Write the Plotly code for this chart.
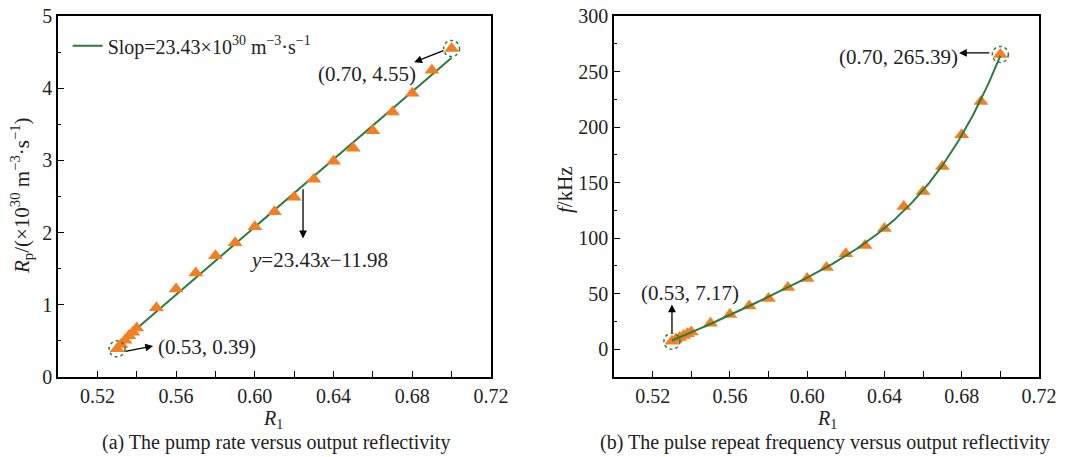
import numpy as np
import plotly.graph_objects as go

# ---------------- data ----------------
r1 = [0.530, 0.532, 0.534, 0.536, 0.538, 0.540, 0.55, 0.56, 0.57, 0.58, 0.59,
      0.60, 0.61, 0.62, 0.63, 0.64, 0.65, 0.66, 0.67, 0.68, 0.69, 0.70]
pump_rate = [0.39, 0.45, 0.51, 0.57, 0.62, 0.68, 0.96, 1.22, 1.44, 1.68, 1.86,
             2.08, 2.29, 2.49, 2.74, 2.99, 3.17, 3.41, 3.67, 3.93, 4.25, 4.55]
pulse_freq = [7.17, 8.9, 10.6, 12.3, 14.0, 15.6, 23.4, 31.4, 39.0, 45.8, 55.7,
              63.8, 73.5, 86.0, 93.5, 108.7, 128.6, 142.0, 164.5, 193.0, 223.0, 265.39]
fit_slope = 23.43
fit_intercept = -11.98
fit_range = [0.53, 0.70]

x_ticks = [0.52, 0.56, 0.60, 0.64, 0.68, 0.72]

GREEN = "#2b7d3b"
ORANGE = "#f47e23"
FONT = "Liberation Serif, Times New Roman, serif"
TXT = "#222"

fig = go.Figure()

# ---- left panel ----
xf = np.linspace(fit_range[0], fit_range[1], 50)
fig.add_trace(go.Scatter(x=xf, y=fit_slope * xf + fit_intercept, mode="lines",
                         line=dict(color=GREEN, width=2),
                         name="Slop=23.43×10<sup>30</sup> m<sup>−3</sup>·s<sup>−1</sup>",
                         xaxis="x", yaxis="y", showlegend=True))
fig.add_trace(go.Scatter(x=r1, y=pump_rate, mode="markers",
                         marker=dict(symbol="triangle-up", size=13, color=ORANGE),
                         xaxis="x", yaxis="y", showlegend=False))

# ---- right panel ----
coef = np.polyfit(r1, pulse_freq, 4)
xf2 = np.linspace(r1[0], r1[-1], 200)
fig.add_trace(go.Scatter(x=r1, y=pulse_freq, mode="markers",
                         marker=dict(symbol="triangle-up", size=13, color=ORANGE),
                         xaxis="x2", yaxis="y2", showlegend=False))
fig.add_trace(go.Scatter(x=xf2, y=np.polyval(coef, xf2), mode="lines",
                         line=dict(color=GREEN, width=2),
                         xaxis="x2", yaxis="y2", showlegend=False))

axis_common = dict(showline=True, linecolor="black", linewidth=1.5, mirror=True,
                   ticks="inside", ticklen=6, tickcolor="black", showgrid=False,
                   zeroline=False, automargin=False,
                   tickfont=dict(family=FONT, size=20, color=TXT))

fig.update_layout(
    width=1091, height=457,
    margin=dict(l=0, r=0, t=0, b=0),
    paper_bgcolor="white", plot_bgcolor="white",
    font=dict(family=FONT, size=20, color=TXT),
    xaxis=dict(domain=[0.0532, 0.450], range=[0.50, 0.72], tickvals=x_ticks,
               ticktext=[f"{v:.2f}" for v in x_ticks],
               minor=dict(ticks="inside", ticklen=6, dtick=0.02, tick0=0.52, tickcolor="black"),
               **axis_common),
    yaxis=dict(domain=[0.175, 0.965], range=[0, 5], dtick=1, tick0=0,
               minor=dict(ticks="inside", ticklen=3, dtick=0.5, tickcolor="black"),
               **axis_common),
    xaxis2=dict(domain=[0.5628, 0.9523], range=[0.50, 0.72], tickvals=x_ticks,
                ticktext=[f"{v:.2f}" for v in x_ticks], anchor="y2",
                minor=dict(ticks="inside", ticklen=6, dtick=0.02, tick0=0.52, tickcolor="black"),
                **axis_common),
    yaxis2=dict(domain=[0.175, 0.965], range=[-25, 300], dtick=50, tick0=0, anchor="x2",
                minor=dict(ticks="inside", ticklen=3, dtick=25, tickcolor="black"),
                **axis_common),
    legend=dict(x=0.062, y=0.90, xanchor="left", yanchor="middle",
                bgcolor="rgba(0,0,0,0)", font=dict(family=FONT, size=20, color=TXT)),
)

# endpoint circles
for (xr, yr, xv, yv) in [("x", "y", r1[0], pump_rate[0]), ("x", "y", r1[-1], pump_rate[-1]),
                         ("x2", "y2", r1[0], pulse_freq[0]), ("x2", "y2", r1[-1], pulse_freq[-1])]:
    fig.add_shape(type="circle", xref=xr, yref=yr, xsizemode="pixel", ysizemode="pixel",
                  xanchor=xv, yanchor=yv, x0=-8, x1=8, y0=-8, y1=8,
                  line=dict(color=GREEN, width=1.5, dash="dot"))

def arrow(xr, yr, tail, head):
    fig.add_annotation(xref=xr, yref=yr, axref=xr, ayref=yr, x=head[0], y=head[1],
                       ax=tail[0], ay=tail[1], text="", showarrow=True,
                       arrowhead=2, arrowsize=1.2, arrowwidth=1.3, arrowcolor="black")

def label(xr, yr, x, y, text, xanchor="center"):
    fig.add_annotation(xref=xr, yref=yr, x=x, y=y, text=text, showarrow=False,
                       xanchor=xanchor, yanchor="middle",
                       font=dict(family=FONT, size=21, color=TXT))

# left annotations
arrow("x", "y", (0.6966, 4.53), (0.681, 4.36))
label("x", "y", 0.657, 4.19, "(0.70, 4.55)")
arrow("x", "y", (0.6245, 2.62), (0.6245, 1.92))
label("x", "y", 0.6327, 1.62, "<i>y</i>=23.43<i>x</i>−11.98")
arrow("x", "y", (0.5335, 0.35), (0.5483, 0.43))
label("x", "y", 0.5500, 0.41, "(0.53, 0.39)", xanchor="left")

# right annotations
arrow("x2", "y2", (0.6951, 266.8), (0.6786, 266.8))
label("x2", "y2", 0.6475, 263, "(0.70, 265.39)")
arrow("x2", "y2", (0.530, 13.5), (0.530, 40.4))
label("x2", "y2", 0.5393, 51, "(0.53, 7.17)")

# axis titles
def ptext(x, y, text, angle=0, size=21):
    fig.add_annotation(xref="paper", yref="paper", x=x, y=y, text=text, showarrow=False,
                       xanchor="center", yanchor="middle",
                       textangle=angle, font=dict(family=FONT, size=size, color=TXT))

ptext(22 / 1091, 1 - 196 / 457, "<i>R</i><sub>p</sub>/(×10<sup>30</sup> m<sup>−3</sup>·s<sup>−1</sup>)", angle=-90)
ptext(565 / 1091, 1 - 190 / 457, "<i>f</i>/kHz", angle=-90)
ptext(273 / 1091, 1 - 419 / 457, "<i>R</i><sub>1</sub>", size=20)
ptext(827 / 1091, 1 - 419 / 457, "<i>R</i><sub>1</sub>", size=20)
ptext(276 / 1091, 1 - 442 / 457, "(a) The pump rate versus output reflectivity", size=20)
ptext(825 / 1091, 1 - 442 / 457, "(b) The pulse repeat frequency versus output reflectivity", size=20)

fig.write_html("out.html")
